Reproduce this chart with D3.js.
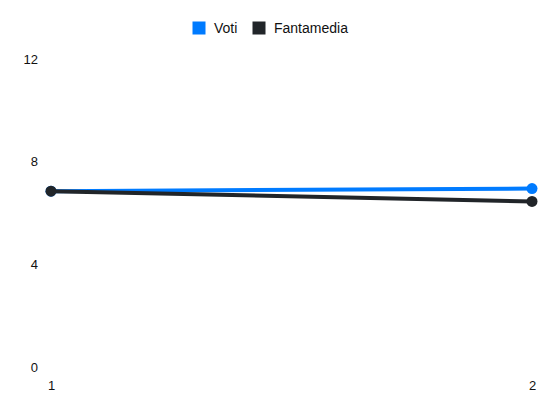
<!DOCTYPE html>
<html>
<head>
<meta charset="utf-8">
<script src="https://cdn.jsdelivr.net/npm/d3@7"></script>
<style>
  body { margin: 0; background: #fff; }
  svg text { font-family: "Liberation Sans", Arial, sans-serif; }
</style>
</head>
<body>
<svg></svg>
<script>
// Chart data
var giornate = [1, 2];
var voti = [6.85, 6.95];
var fantamedia = [6.85, 6.45];
var seriesNames = ["Voti", "Fantamedia"];
var seriesColors = ["#007bff", "#212529"];
var yTicks = [0, 4, 8, 12];

var w = 550;
var h = 412;

var svg = d3.select("svg")
    .attr("width", w)
    .attr("height", h);

// Scales
var x = d3.scaleLinear()
    .domain([1, 2])
    .range([51, 532]);

var y = d3.scaleLinear()
    .domain([0, 12])
    .range([367, 59]);

// Y axis (labels only)
var yAxis = d3.axisLeft(y)
    .tickValues(yTicks)
    .tickSize(0)
    .tickPadding(0);

svg.append("g")
    .attr("transform", "translate(38,0)")
    .call(yAxis)
    .call(g => g.select(".domain").remove())
    .selectAll("text")
    .attr("font-size", 13)
    .attr("fill", "#111");

// X axis (labels only)
var xAxis = d3.axisBottom(x)
    .tickValues(giornate)
    .tickFormat(d3.format("d"))
    .tickSize(0)
    .tickPadding(0);

svg.append("g")
    .attr("transform", "translate(0,381)")
    .call(xAxis)
    .call(g => g.select(".domain").remove())
    .selectAll("text")
    .attr("font-size", 13)
    .attr("fill", "#111");

// Lines
var series = [voti, fantamedia].map(function (vals, i) {
    return {
        name: seriesNames[i],
        color: seriesColors[i],
        values: vals.map(function (v, j) { return { x: giornate[j], y: v }; })
    };
});

var line = d3.line()
    .x(d => x(d.x))
    .y(d => y(d.y));

var groups = svg.selectAll(".serie")
    .data(series)
    .enter().append("g")
    .attr("class", "serie");

groups.append("path")
    .attr("d", d => line(d.values))
    .attr("fill", "none")
    .attr("stroke", d => d.color)
    .attr("stroke-width", 4);

groups.selectAll("circle")
    .data(d => d.values.map(v => ({ x: v.x, y: v.y, color: d.color })))
    .enter().append("circle")
    .attr("cx", d => x(d.x))
    .attr("cy", d => y(d.y))
    .attr("r", 5.5)
    .attr("fill", d => d.color);

// Legend
var legend = svg.append("g")
    .attr("class", "legend");

var legendX = [192, 252];
var items = legend.selectAll("g")
    .data(series)
    .enter().append("g")
    .attr("transform", (d, i) => "translate(" + legendX[i] + ",21)");

items.append("rect")
    .attr("width", 14)
    .attr("height", 14)
    .attr("fill", d => d.color)
    .attr("stroke", "#fff")
    .attr("stroke-width", 1);

items.append("text")
    .attr("x", 22)
    .attr("y", 7)
    .attr("dy", "0.35em")
    .attr("font-size", 14)
    .attr("fill", "#111")
    .text(d => d.name);
</script>
</body>
</html>
